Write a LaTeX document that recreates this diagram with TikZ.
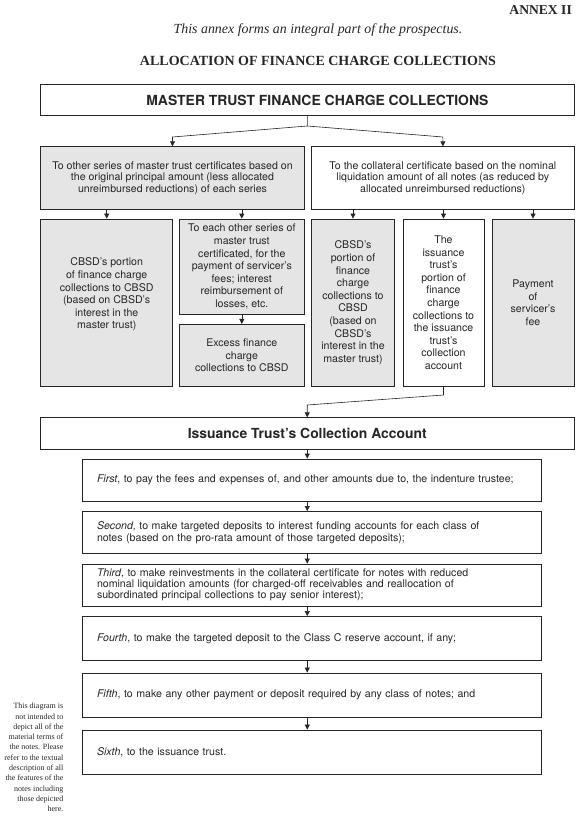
\documentclass[tikz,border=0pt]{standalone}
\usepackage{fontspec}
\setmainfont{Liberation Serif}
\setsansfont{TeX Gyre Heros}
\usepackage{tikz}
\usetikzlibrary{arrows.meta}
\usetikzlibrary{shadows}
\pgfdeclarelayer{nodelayer}
\pgfdeclarelayer{edgelayer}
\pgfsetlayers{edgelayer,nodelayer,main}
\definecolor{ink}{gray}{0.15}
\definecolor{boxgray}{gray}{0.9}
\tikzset{every picture/.append style={x=1pt, y=-1pt}}
\tikzset{box/.style={draw=ink, line width=0.8pt, rectangle, inner sep=2pt, anchor=center,
text=ink, align=center, font=\sffamily\fontsize{10.6}{12.6}\selectfont,
drop shadow={shadow xshift=0.7pt, shadow yshift=-0.7pt, fill=black!45, opacity=1}}}
\tikzset{grey/.style={box, fill=boxgray}}
\tikzset{plain/.style={box, fill=white}}
\tikzset{title/.style={plain, font=\sffamily\bfseries\fontsize{13.9}{16}\selectfont}}
\tikzset{stepbox/.style={plain, align=left, minimum width=459pt, minimum height=42pt,
inner xsep=15pt, text width=429pt}}
\tikzset{head/.style={inner sep=0pt, text=ink}}
\tikzset{arr/.style={draw=ink, line width=0.6pt, -{Triangle[length=5pt,width=5pt]}}}

\begin{document}
\begin{tikzpicture}
	\useasboundingbox (0,0) rectangle (576,818);
	\begin{pgfonlayer}{nodelayer}
		\node [head, anchor=east, font=\bfseries\fontsize{13.6}{15}\selectfont] (16) at (572,10) {ANNEX II};
		\node [head, font=\itshape\fontsize{13.9}{15}\selectfont] (17) at (318,30) {This annex forms an integral part of the prospectus.};
		\node [head, font=\bfseries\fontsize{14}{16}\selectfont] (18) at (318,61) {ALLOCATION OF FINANCE CHARGE COLLECTIONS};
		\node [title, minimum width=533.3pt, minimum height=31.4pt] (0) at (307.35,100) {\hspace*{20pt}MASTER TRUST FINANCE CHARGE COLLECTIONS};
		\node [grey, minimum width=263.6pt, minimum height=62.6pt, font=\sffamily\fontsize{10.6}{11.6}\selectfont] (1) at (172.5,178) {To other series of master trust certificates based on\\the original principal amount (less allocated\\unreimbursed reductions) of each series};
		\node [plain, minimum width=262.3pt, minimum height=62.6pt, font=\sffamily\fontsize{10.6}{11.6}\selectfont] (2) at (442.85,178) {To the collateral certificate based on the nominal\\liquidation amount of all notes (as reduced by\\allocated unreimbursed reductions)};
		\node [grey, minimum width=132pt, minimum height=167.5pt] (3) at (106.7,302.75) {CBSD's portion\\of finance charge\\collections to CBSD\\(based on CBSD's\\interest in the\\master trust)\\[6pt]};
		\node [grey, minimum width=125pt, minimum height=95pt] (4) at (241.8,266.5) {To each other series of\\master trust\\certificated, for the\\payment of servicer's\\fees; interest\\reimbursement of\\losses, etc.};
		\node [grey, minimum width=125pt, minimum height=62.2pt] (5) at (241.8,355.4) {Excess finance\\charge\\collections to CBSD};
		\node [grey, minimum width=82.6pt, minimum height=167.5pt] (6) at (353,302.75) {CBSD's\\portion of\\finance\\charge\\collections to\\CBSD\\(based on\\CBSD's\\interest in the\\master trust)};
		\node [plain, minimum width=81pt, minimum height=167.5pt] (7) at (443.5,302.75) {The\\issuance\\trust's\\portion of\\finance\\charge\\collections to\\the issuance\\trust's\\collection\\account};
		\node [grey, minimum width=82pt, minimum height=167.5pt] (8) at (533,302.75) {Payment\\of\\servicer's\\fee};
		\node [title, minimum width=533.5pt, minimum height=31.6pt] (9) at (307.25,433.5) {Issuance Trust's Collection Account};
		\node [stepbox] (10) at (311.5,480) {\textit{First}, to pay the fees and expenses of, and other amounts due to, the indenture trustee;};
		\node [stepbox] (11) at (311.5,532.5) {\textit{Second}, to make targeted deposits to interest funding accounts for each class of\\notes (based on the pro-rata amount of those targeted deposits);};
		\node [stepbox, font=\sffamily\fontsize{10.6}{11}\selectfont] (12) at (311.5,585) {\textit{Third}, to make reinvestments in the collateral certificate for notes with reduced\\nominal liquidation amounts (for charged-off receivables and reallocation of\\subordinated principal collections to pay senior interest);};
		\node [stepbox, minimum height=44pt] (13) at (311.5,638.5) {\textit{Fourth}, to make the targeted deposit to the Class C reserve account, if any;};
		\node [stepbox, minimum height=44pt] (14) at (311.5,695) {\textit{Fifth}, to make any other payment or deposit required by any class of notes; and};
		\node [stepbox, minimum height=44pt] (15) at (311.5,752) {\textit{Sixth}, to the issuance trust.};
		\node [head, anchor=north east, align=right, font=\fontsize{8}{10.3}\selectfont] (19) at (63.5,703) {This diagram is\\not intended to\\depict all of the\\material terms of\\the notes. Please\\refer to the textual\\description of all\\the features of the\\notes including\\those depicted\\here.};
		\coordinate (20) at (307.35,126);
		\coordinate (21) at (172.5,137);
		\coordinate (22) at (442.85,137);
		\coordinate (23) at (443.5,395);
		\coordinate (24) at (307.25,405);
	\end{pgfonlayer}
	\begin{pgfonlayer}{edgelayer}
		\draw [arr] (0.south) -- (20) -- (21) -- (1.north);
		\draw [arr] (20) -- (22) -- (2.north);
		\draw [arr] (1.south -| 3.north) to (3.north);
		\draw [arr] (1.south -| 4.north) to (4.north);
		\draw [arr] (4.south) to (5.north);
		\draw [arr] (2.south -| 6.north) to (6.north);
		\draw [arr] (2.south -| 7.north) to (7.north);
		\draw [arr] (2.south -| 8.north) to (8.north);
		\draw [arr] (7.south) -- (23) -- (24) -- (9.north);
		\draw [arr] (9.south) to (9.south |- 10.north);
		\draw [arr] (10.south -| 9.south) to (9.south |- 11.north);
		\draw [arr] (11.south -| 9.south) to (9.south |- 12.north);
		\draw [arr] (12.south -| 9.south) to (9.south |- 13.north);
		\draw [arr] (13.south -| 9.south) to (9.south |- 14.north);
		\draw [arr] (14.south -| 9.south) to (9.south |- 15.north);
	\end{pgfonlayer}
\end{tikzpicture}
\end{document}
